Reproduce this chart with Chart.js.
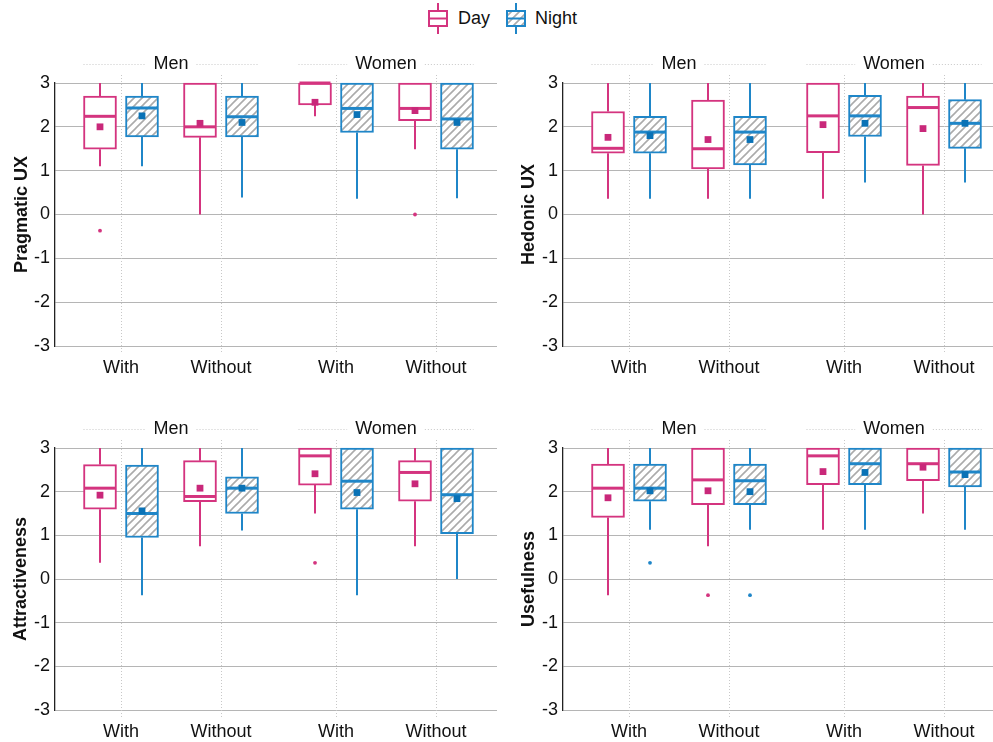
<!DOCTYPE html>
<html>
<head>
<meta charset="utf-8">
<script src="https://cdn.jsdelivr.net/npm/chart.js@4.4.1/dist/chart.umd.min.js"></script>
<style>
    html, body { margin: 0; padding: 0; background: #fff; }
    body { width: 993px; height: 742px; position: relative; overflow: hidden;
           font-family: "Liberation Sans", Arial, Helvetica, sans-serif; }
    canvas.panel { position: absolute; }
    .legend-icon { position: absolute; }
    .legend-text { position: absolute; font-size: 18px; color: #111; line-height: 20px; }
</style>
</head>
<body>

<canvas class="legend-icon" id="iconDay" width="24" height="32" style="left:426px; top:3px;"></canvas>
<span class="legend-text" style="left:458px; top:8px;">Day</span>
<canvas class="legend-icon" id="iconNight" width="24" height="32" style="left:504px; top:3px;"></canvas>
<span class="legend-text" style="left:535px; top:8px;">Night</span>

<canvas class="panel" id="pPrag" width="500" height="340" style="left:0; top:40px;"></canvas>
<canvas class="panel" id="pHed" width="493" height="340" style="left:500px; top:40px;"></canvas>
<canvas class="panel" id="pAtt" width="500" height="337" style="left:0; top:405px;"></canvas>
<canvas class="panel" id="pUse" width="493" height="337" style="left:500px; top:405px;"></canvas>

<script>
(function() {
    'use strict';

    // ============================================================================
    // DATA  (box stats are [min, q1, median, q3, max])
    // ============================================================================

    var groups = ['Men', 'Women'];
    var categoryLabels = ['With', 'Without', 'With', 'Without'];
    var categoryPos = [0, 1, 2.15, 3.15];
    var seriesNames = ['Day', 'Night'];

    // Pragmatic UX
    var pragDay = [[1.10, 1.49, 2.24, 2.70, 3], [0, 1.76, 2.00, 3, 3], [2.24, 2.50, 3, 3, 3], [1.49, 2.14, 2.42, 3, 3]];
    var pragDayMean = [2.00, 2.08, 2.56, 2.37];
    var pragDayOut = [[-0.37], [], [], [0]];
    var pragNight = [[1.10, 1.77, 2.43, 2.70, 3], [0.39, 1.77, 2.23, 2.70, 3], [0.36, 1.87, 2.42, 3, 3], [0.37, 1.49, 2.18, 3, 3]];
    var pragNightMean = [2.25, 2.10, 2.28, 2.10];
    var pragNightOut = [[], [], [], []];

    // Hedonic UX
    var hedDay = [[0.36, 1.40, 1.51, 2.35, 3], [0.36, 1.04, 1.50, 2.61, 3], [0.36, 1.41, 2.25, 3, 3], [0, 1.12, 2.44, 2.70, 3]];
    var hedDayMean = [1.76, 1.71, 2.05, 1.96];
    var hedDayOut = [[], [], [], []];
    var hedNight = [[0.36, 1.40, 1.88, 2.24, 3], [0.36, 1.13, 1.88, 2.24, 3], [0.73, 1.78, 2.25, 2.72, 3], [0.73, 1.51, 2.08, 2.62, 3]];
    var hedNightMean = [1.80, 1.71, 2.08, 2.08];
    var hedNightOut = [[], [], [], []];

    // Attractiveness
    var attDay = [[0.37, 1.60, 2.08, 2.62, 3], [0.75, 1.77, 1.89, 2.71, 3], [1.50, 2.15, 2.82, 3, 3], [0.75, 1.78, 2.44, 2.71, 3]];
    var attDayMean = [1.92, 2.08, 2.41, 2.18];
    var attDayOut = [[], [], [0.37], []];
    var attNight = [[-0.37, 0.95, 1.50, 2.61, 3], [1.11, 1.50, 2.08, 2.34, 3], [-0.37, 1.60, 2.24, 3, 3], [0, 1.04, 1.93, 3, 3]];
    var attNightMean = [1.56, 2.08, 1.98, 1.84];
    var attNightOut = [[], [], [], []];

    // Usefulness
    var useDay = [[-0.37, 1.41, 2.08, 2.63, 3], [0.75, 1.70, 2.27, 3, 3], [1.13, 2.16, 2.82, 3, 3], [1.50, 2.25, 2.64, 3, 3]];
    var useDayMean = [1.86, 2.02, 2.46, 2.56];
    var useDayOut = [[], [-0.37], [], []];
    var useNight = [[1.13, 1.78, 2.08, 2.63, 3], [1.13, 1.70, 2.25, 2.63, 3], [1.13, 2.16, 2.64, 3, 3], [1.13, 2.11, 2.45, 3, 3]];
    var useNightMean = [2.02, 2.00, 2.44, 2.39];
    var useNightOut = [[0.37], [-0.37], [], []];

    // ============================================================================
    // STYLE
    // ============================================================================

    var DAY_COLOR = '#d4347f';
    var DAY_MEAN = '#c9287a';
    var NIGHT_COLOR = '#1f86c8';
    var NIGHT_MEAN = '#0a72b6';
    var HATCH_COLOR = '#ababab';
    var FONT = '"Liberation Sans", Arial, Helvetica, sans-serif';
    var SERIES_OFFSET = 0.21;
    var BOX_PX = 33;

    function makeHatch() {
        var c = document.createElement('canvas');
        c.width = 8; c.height = 8;
        var g = c.getContext('2d');
        g.fillStyle = '#fff';
        g.fillRect(0, 0, 8, 8);
        g.strokeStyle = HATCH_COLOR;
        g.lineWidth = 1.6;
        g.beginPath();
        g.moveTo(-2, 10); g.lineTo(10, -2);
        g.moveTo(-2, 2); g.lineTo(2, -2);
        g.moveTo(6, 10); g.lineTo(10, 6);
        g.stroke();
        return g.createPattern(c, 'repeat');
    }

    // ============================================================================
    // PLUGINS
    // ============================================================================

    // whiskers + median line, drawn right after each box dataset
    var boxPartsPlugin = {
        id: 'boxParts',
        afterDatasetDraw: function(chart, args) {
            var ds = chart.data.datasets[args.index];
            if (!ds.stats) return;
            var ctx = chart.ctx;
            var y = chart.scales.y;
            ctx.save();
            ctx.strokeStyle = ds.borderColor;
            args.meta.data.forEach(function(bar, i) {
                var s = ds.stats[i];
                var half = bar.width / 2;
                ctx.lineWidth = 2;
                ctx.beginPath();
                ctx.moveTo(bar.x, y.getPixelForValue(s[3]));
                ctx.lineTo(bar.x, y.getPixelForValue(s[4]));
                ctx.moveTo(bar.x, y.getPixelForValue(s[1]));
                ctx.lineTo(bar.x, y.getPixelForValue(s[0]));
                ctx.stroke();
                ctx.lineWidth = 3;
                ctx.beginPath();
                var my = y.getPixelForValue(s[2]);
                ctx.moveTo(bar.x - half + 1, my);
                ctx.lineTo(bar.x + half - 1, my);
                ctx.stroke();
            });
            ctx.restore();
        }
    };

    // dotted category lines and Men / Women group headers
    var framePlugin = {
        id: 'frame',
        beforeDatasetsDraw: function(chart) {
            var ctx = chart.ctx;
            var x = chart.scales.x;
            var area = chart.chartArea;
            ctx.save();
            ctx.strokeStyle = '#c8c8c8';
            ctx.lineWidth = 1;
            ctx.setLineDash([1, 2]);
            categoryPos.forEach(function(p) {
                var px = Math.round(x.getPixelForValue(p)) + 0.5;
                ctx.beginPath();
                ctx.moveTo(px, area.top - 8);
                ctx.lineTo(px, area.bottom + 7);
                ctx.stroke();
            });
            ctx.restore();
        },
        afterDraw: function(chart) {
            var ctx = chart.ctx;
            var x = chart.scales.x;
            var ty = chart.chartArea.top - 19;
            ctx.save();
            ctx.font = '18px ' + FONT;
            ctx.fillStyle = '#111';
            ctx.textAlign = 'center';
            ctx.textBaseline = 'middle';
            groups.forEach(function(name, g) {
                var x0 = x.getPixelForValue(categoryPos[g * 2] - SERIES_OFFSET) - BOX_PX / 2;
                var x1 = x.getPixelForValue(categoryPos[g * 2 + 1] + SERIES_OFFSET) + BOX_PX / 2;
                var mid = (x0 + x1) / 2;
                var w = ctx.measureText(name).width / 2 + 8;
                ctx.fillText(name, mid, ty);
                ctx.strokeStyle = '#c8c8c8';
                ctx.lineWidth = 1;
                ctx.setLineDash([1, 2]);
                ctx.beginPath();
                ctx.moveTo(x0, ty + 0.5); ctx.lineTo(mid - w, ty + 0.5);
                ctx.moveTo(mid + w, ty + 0.5); ctx.lineTo(x1, ty + 0.5);
                ctx.stroke();
            });
            ctx.restore();
        }
    };

    // ============================================================================
    // CHART CREATION
    // ============================================================================

    function pointsFrom(values, off) {
        return values.map(function(v, i) { return { x: categoryPos[i] + off, y: v }; });
    }

    function outliersFrom(lists, off) {
        var pts = [];
        lists.forEach(function(list, i) {
            list.forEach(function(v) { pts.push({ x: categoryPos[i] + off, y: v }); });
        });
        return pts;
    }

    function boxesFrom(stats, off) {
        return stats.map(function(s, i) { return { x: categoryPos[i] + off, y: [s[1], s[3]] }; });
    }

    function initPanel(canvasId, title, cfg) {
        var ctx = document.getElementById(canvasId);
        var hatch = makeHatch();

        return new Chart(ctx, {
            type: 'bar',
            data: {
                datasets: [
                    { type: 'scatter', label: 'Day mean', data: pointsFrom(cfg.dayMean, -SERIES_OFFSET),
                      pointStyle: 'rect', radius: 4.8, borderWidth: 0, backgroundColor: DAY_MEAN, clip: false },
                    { type: 'scatter', label: 'Night mean', data: pointsFrom(cfg.nightMean, SERIES_OFFSET),
                      pointStyle: 'rect', radius: 4.8, borderWidth: 0, backgroundColor: NIGHT_MEAN, clip: false },
                    { type: 'scatter', label: 'Day outliers', data: outliersFrom(cfg.dayOut, -SERIES_OFFSET),
                      pointStyle: 'circle', radius: 1.9, borderWidth: 0, backgroundColor: DAY_COLOR, clip: false },
                    { type: 'scatter', label: 'Night outliers', data: outliersFrom(cfg.nightOut, SERIES_OFFSET),
                      pointStyle: 'circle', radius: 1.9, borderWidth: 0, backgroundColor: NIGHT_COLOR, clip: false },
                    { label: seriesNames[0], data: boxesFrom(cfg.day, -SERIES_OFFSET), stats: cfg.day,
                      backgroundColor: '#fff', borderColor: DAY_COLOR, borderWidth: 2, borderSkipped: false,
                      barThickness: BOX_PX, grouped: false, clip: false },
                    { label: seriesNames[1], data: boxesFrom(cfg.night, SERIES_OFFSET), stats: cfg.night,
                      backgroundColor: hatch, borderColor: NIGHT_COLOR, borderWidth: 2, borderSkipped: false,
                      barThickness: BOX_PX, grouped: false, clip: false }
                ]
            },
            options: {
                responsive: false,
                animation: false,
                layout: {
                    autoPadding: false,
                    padding: { top: cfg.padTop, right: cfg.padRight, left: 0, bottom: 0 }
                },
                plugins: {
                    legend: { display: false },
                    tooltip: { enabled: false }
                },
                scales: {
                    x: {
                        type: 'linear',
                        min: -0.66,
                        max: cfg.xMax,
                        offset: false,
                        grid: { display: false, drawTicks: false },
                        border: { display: false },
                        afterBuildTicks: function(scale) {
                            scale.ticks = categoryPos.map(function(p) { return { value: p }; });
                        },
                        afterFit: function(scale) {
                            scale.height = cfg.xHeight;
                            scale.paddingLeft = 0;
                            scale.paddingRight = 0;
                        },
                        ticks: {
                            autoSkip: false,
                            maxRotation: 0,
                            padding: 11,
                            color: '#111',
                            font: { family: FONT, size: 18 },
                            callback: function(value, index) { return categoryLabels[index]; }
                        }
                    },
                    y: {
                        min: -3,
                        max: 3,
                        afterFit: function(scale) { scale.width = cfg.yWidth; },
                        grid: { color: '#b5b5b5', lineWidth: 1, drawTicks: false },
                        border: { display: true, color: '#222', width: 1.3 },
                        ticks: {
                            stepSize: 1,
                            padding: 5,
                            color: '#111',
                            font: { family: FONT, size: 18 }
                        },
                        title: {
                            display: true,
                            text: title,
                            color: '#111',
                            padding: { top: cfg.titlePad, bottom: 0 },
                            font: { family: FONT, size: 18, weight: 'bold' }
                        }
                    }
                }
            },
            plugins: [framePlugin, boxPartsPlugin]
        });
    }

    // ============================================================================
    // LEGEND ICONS
    // ============================================================================

    function drawIcon(id, color, fill) {
        var g = document.getElementById(id).getContext('2d');
        g.strokeStyle = color;
        g.lineWidth = 2;
        g.beginPath();
        g.moveTo(12, 0); g.lineTo(12, 8);
        g.moveTo(12, 23); g.lineTo(12, 31);
        g.stroke();
        g.fillStyle = fill;
        g.fillRect(3, 8, 18, 15);
        g.strokeRect(3, 8, 18, 15);
        g.beginPath();
        g.moveTo(3, 15.5); g.lineTo(21, 15.5);
        g.stroke();
    }

    drawIcon('iconDay', DAY_COLOR, '#fff');
    drawIcon('iconNight', NIGHT_COLOR, makeHatch());

    initPanel('pPrag', 'Pragmatic UX', {
        day: pragDay, dayMean: pragDayMean, dayOut: pragDayOut,
        night: pragNight, nightMean: pragNightMean, nightOut: pragNightOut,
        padTop: 43, padRight: 3, xMax: 3.76, xHeight: 34, yWidth: 55, titlePad: 11
    });
    initPanel('pHed', 'Hedonic UX', {
        day: hedDay, dayMean: hedDayMean, dayOut: hedDayOut,
        night: hedNight, nightMean: hedNightMean, nightOut: hedNightOut,
        padTop: 43, padRight: 0, xMax: 3.64, xHeight: 34, yWidth: 63, titlePad: 18
    });
    initPanel('pAtt', 'Attractiveness', {
        day: attDay, dayMean: attDayMean, dayOut: attDayOut,
        night: attNight, nightMean: attNightMean, nightOut: attNightOut,
        padTop: 43, padRight: 3, xMax: 3.76, xHeight: 32, yWidth: 55, titlePad: 10
    });
    initPanel('pUse', 'Usefulness', {
        day: useDay, dayMean: useDayMean, dayOut: useDayOut,
        night: useNight, nightMean: useNightMean, nightOut: useNightOut,
        padTop: 43, padRight: 0, xMax: 3.64, xHeight: 32, yWidth: 63, titlePad: 18
    });

})();
</script>
</body>
</html>
